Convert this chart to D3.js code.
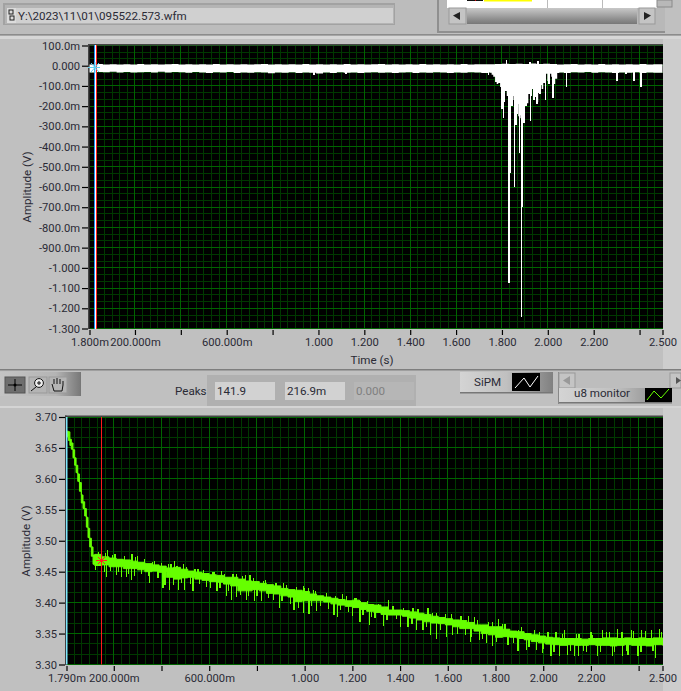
<!DOCTYPE html>
<html><head><meta charset="utf-8">
<script src="https://cdn.jsdelivr.net/npm/d3@7"></script>
<style>
html,body{margin:0;padding:0;background:#c0c0c0;overflow:hidden}
svg{display:block}
text{font-family:Roboto,"Noto Sans",sans-serif;font-size:11.6px;fill:#2a2a35}
</style></head><body>
<svg id="c" width="681" height="691"></svg>
<script>
// ---------- data ----------
const filePath = "Y:\\2023\\11\\01\\095522.573.wfm";
const peakLabels = ["141.9","216.9m","0.000"];
const topYTicks = [0.1,0,-0.1,-0.2,-0.3,-0.4,-0.5,-0.6,-0.7,-0.8,-0.9,-1.0,-1.1,-1.2,-1.3];
const topYLabels = ["100.0m","0.000","-100.0m","-200.0m","-300.0m","-400.0m","-500.0m","-600.0m","-700.0m","-800.0m","-900.0m","-1.000","-1.100","-1.200","-1.300"];
const xMajor = [0.2,0.4,0.6,0.8,1.0,1.2,1.4,1.6,1.8,2.0,2.2,2.4];
const xLabelled = [0.2,0.6,1.0,1.2,1.4,1.6,1.8,2.0,2.2,2.5];
const xLabelText = ["200.000m","600.000m","1.000","1.200","1.400","1.600","1.800","2.000","2.200","2.500"];
const botYTicks = [3.70,3.65,3.60,3.55,3.50,3.45,3.40,3.35,3.30];

// SiPM band: time, low edge, high edge
const sipmBand = [[0.002,-0.034,0.006],[0.03,-0.031,0.008],[0.06,-0.032,0.006],[0.09,-0.030,0.007],[0.12,-0.033,0.006],[0.15,-0.031,0.007],[0.18,-0.034,0.006],[0.21,-0.032,0.008],[0.24,-0.031,0.006],[0.27,-0.033,0.007],[0.30,-0.030,0.006],[0.33,-0.034,0.007],[0.36,-0.031,0.008],[0.39,-0.032,0.006],[0.42,-0.035,0.007],[0.45,-0.031,0.006],[0.48,-0.033,0.007],[0.51,-0.036,0.006],[0.54,-0.032,0.008],[0.57,-0.034,0.006],[0.60,-0.031,0.007],[0.63,-0.036,0.006],[0.66,-0.033,0.007],[0.69,-0.035,0.006],[0.72,-0.032,0.007],[0.75,-0.034,0.008],[0.78,-0.037,0.006],[0.81,-0.033,0.007],[0.84,-0.035,0.006],[0.87,-0.032,0.007],[0.90,-0.036,0.006],[0.93,-0.033,0.008],[0.96,-0.035,0.006],[0.99,-0.038,0.007],[1.02,-0.034,0.006],[1.05,-0.036,0.007],[1.08,-0.032,0.006],[1.11,-0.035,0.008],[1.14,-0.033,0.006],[1.17,-0.036,0.007],[1.20,-0.034,0.006],[1.23,-0.032,0.007],[1.26,-0.035,0.008],[1.29,-0.033,0.006],[1.32,-0.036,0.007],[1.35,-0.034,0.006],[1.38,-0.032,0.007],[1.41,-0.036,0.006],[1.44,-0.033,0.008],[1.47,-0.035,0.006],[1.50,-0.032,0.007],[1.53,-0.034,0.006],[1.56,-0.036,0.007],[1.59,-0.033,0.006],[1.62,-0.035,0.008],[1.65,-0.032,0.006],[1.68,-0.034,0.007],[1.71,-0.036,0.007],[1.74,-0.033,0.007],[1.77,-0.034,0.008],[1.80,-0.034,0.010],[1.83,-0.034,0.009],[1.86,-0.034,0.010],[1.89,-0.034,0.009],[1.92,-0.034,0.011],[1.95,-0.034,0.009],[1.98,-0.034,0.010],[2.01,-0.034,0.008],[2.04,-0.033,0.006],[2.07,-0.036,0.007],[2.10,-0.032,0.008],[2.13,-0.034,0.006],[2.16,-0.031,0.007],[2.19,-0.035,0.006],[2.22,-0.032,0.008],[2.25,-0.034,0.006],[2.28,-0.036,0.007],[2.31,-0.033,0.006],[2.34,-0.035,0.007],[2.37,-0.032,0.006],[2.40,-0.036,0.008],[2.43,-0.033,0.006],[2.46,-0.035,0.007],[2.50,-0.032,0.006]];
// SiPM burst: time, lowest continuous level
const sipmBurst = [[1.748,-0.033],[1.755,-0.045],[1.762,-0.055],[1.770,-0.080],[1.777,-0.090],[1.784,-0.085],[1.792,-0.105],[1.799,-0.130],[1.806,-0.140],[1.813,-0.125],[1.821,-0.150],[1.828,-0.170],[1.835,-0.190],[1.842,-0.150],[1.850,-0.170],[1.858,-0.215],[1.866,-0.190],[1.871,-0.250],[1.877,-0.260],[1.882,-0.245],[1.889,-0.250],[1.893,-0.230],[1.897,-0.190],[1.902,-0.110],[1.908,-0.186],[1.915,-0.140],[1.924,-0.150],[1.931,-0.115],[1.937,-0.135],[1.944,-0.155],[1.951,-0.180],[1.958,-0.135],[1.966,-0.095],[1.973,-0.115],[1.980,-0.085],[1.989,-0.040],[1.998,-0.075],[2.006,-0.040],[2.015,-0.055],[2.024,-0.090],[2.032,-0.065],[2.041,-0.036],[2.05,-0.033]];
// SiPM spikes: time, tip value
const sipmSpikes = [[1.742,-0.048],[1.799,-0.214],[1.806,-0.260],[1.812,-0.180],[1.832,-1.074],[1.836,-0.533],[1.845,-0.200],[1.854,-0.602],[1.860,-0.294],[1.868,-0.240],[1.877,-0.430],[1.886,-1.242],[1.889,-0.701],[1.897,-0.285],[1.905,-0.200],[1.924,-0.272],[1.940,-0.170],[1.952,-0.190],[1.966,-0.140],[1.990,-0.170],[2.006,-0.090],[2.022,-0.160],[2.082,-0.104],[2.302,-0.074],[2.376,-0.074],[2.407,-0.107],[1.820,0.028],[1.922,0.016],[1.958,0.023],[1.12,-0.042],[0.98,-0.044],[2.34,-0.040]];

// u8 monitor: fall at the start, then noisy band: time, low edge, high edge
const u8Band = [[0.004,3.668,3.677],[0.010,3.662,3.676],[0.016,3.654,3.664],[0.022,3.648,3.658],[0.029,3.634,3.647],[0.036,3.622,3.634],[0.042,3.610,3.622],[0.049,3.596,3.608],[0.056,3.580,3.594],[0.064,3.561,3.574],[0.071,3.552,3.563],[0.078,3.540,3.552],[0.085,3.522,3.538],[0.092,3.505,3.520],[0.099,3.490,3.504],[0.106,3.475,3.490],[0.113,3.462,3.477],[0.12,3.460,3.478],[0.15,3.461,3.474],[0.18,3.458,3.472],[0.21,3.458,3.470],[0.24,3.455,3.469],[0.27,3.455,3.467],[0.30,3.453,3.465],[0.33,3.450,3.463],[0.36,3.451,3.461],[0.39,3.449,3.459],[0.42,3.441,3.456],[0.45,3.438,3.457],[0.48,3.440,3.454],[0.51,3.441,3.451],[0.54,3.438,3.449],[0.57,3.436,3.447],[0.60,3.434,3.445],[0.63,3.433,3.444],[0.66,3.430,3.441],[0.69,3.427,3.441],[0.72,3.419,3.438],[0.75,3.419,3.435],[0.78,3.421,3.434],[0.81,3.419,3.431],[0.84,3.415,3.429],[0.87,3.414,3.427],[0.90,3.411,3.423],[0.93,3.409,3.421],[0.96,3.402,3.420],[0.99,3.403,3.418],[1.02,3.403,3.414],[1.05,3.403,3.411],[1.08,3.401,3.409],[1.11,3.398,3.407],[1.14,3.396,3.405],[1.17,3.394,3.403],[1.20,3.392,3.404],[1.23,3.389,3.400],[1.26,3.386,3.397],[1.29,3.384,3.396],[1.32,3.381,3.393],[1.35,3.380,3.388],[1.38,3.380,3.388],[1.41,3.378,3.387],[1.44,3.375,3.385],[1.47,3.372,3.383],[1.50,3.369,3.381],[1.53,3.367,3.378],[1.56,3.366,3.376],[1.59,3.364,3.374],[1.62,3.361,3.372],[1.65,3.358,3.371],[1.68,3.358,3.368],[1.71,3.354,3.364],[1.74,3.350,3.364],[1.77,3.348,3.361],[1.80,3.344,3.361],[1.83,3.345,3.357],[1.86,3.344,3.354],[1.89,3.342,3.353],[1.92,3.340,3.350],[1.95,3.337,3.348],[1.98,3.335,3.346],[2.01,3.333,3.344],[2.04,3.332,3.343],[2.07,3.331,3.342],[2.10,3.332,3.342],[2.13,3.331,3.342],[2.16,3.331,3.341],[2.19,3.332,3.342],[2.22,3.331,3.342],[2.25,3.331,3.343],[2.28,3.330,3.343],[2.31,3.331,3.342],[2.34,3.332,3.343],[2.37,3.331,3.342],[2.40,3.331,3.343],[2.43,3.330,3.342],[2.46,3.332,3.343],[2.50,3.331,3.343]];
const u8SpikesUp = [[0.175,3.485],[0.276,3.479],[0.291,3.473],[0.196,3.477],[0.238,3.469],[0.361,3.465],[0.431,3.463],[0.455,3.467],[0.493,3.462],[0.553,3.454],[0.613,3.449],[0.651,3.451],[0.714,3.446],[0.752,3.445],[0.771,3.444],[0.826,3.435],[0.913,3.432],[0.994,3.427],[1.015,3.423],[1.036,3.421],[1.158,3.414],[1.215,3.408],[1.232,3.402],[1.353,3.404],[1.454,3.392],[1.517,3.391],[1.554,3.383],[1.614,3.381],[1.688,3.378],[1.712,3.376],[1.789,3.369],[1.814,3.373],[1.831,3.365],[1.897,3.356],[1.985,3.352],[2.027,3.345],[2.054,3.353],[2.089,3.356],[2.138,3.350],[2.208,3.348],[2.25,3.355],[2.278,3.353],[2.313,3.358],[2.369,3.356],[2.411,3.356],[2.453,3.355],[2.487,3.357]];
const u8SpikesDown = [[0.147,3.455],[0.171,3.442],[0.21,3.445],[0.231,3.441],[0.252,3.442],[0.273,3.437],[0.287,3.443],[0.35,3.431],[0.406,3.423],[0.434,3.421],[0.472,3.421],[0.496,3.420],[0.532,3.419],[0.605,3.423],[0.633,3.419],[0.672,3.410],[0.693,3.405],[0.714,3.409],[0.756,3.404],[0.791,3.403],[0.819,3.402],[0.868,3.404],[0.893,3.391],[0.955,3.388],[0.994,3.384],[1.018,3.382],[1.05,3.387],[1.123,3.380],[1.137,3.376],[1.2,3.378],[1.232,3.369],[1.271,3.364],[1.295,3.375],[1.332,3.363],[1.401,3.360],[1.433,3.361],[1.470,3.356],[1.496,3.355],[1.528,3.347],[1.554,3.342],[1.593,3.345],[1.621,3.347],[1.674,3.348],[1.694,3.337],[1.733,3.340],[1.761,3.335],[1.789,3.330],[1.852,3.331],[1.894,3.322],[1.929,3.324],[1.971,3.324],[1.996,3.318],[2.033,3.314],[2.068,3.313],[2.103,3.315],[2.131,3.313],[2.149,3.313],[2.183,3.321],[2.229,3.313],[2.292,3.313],[2.334,3.313],[2.355,3.315],[2.397,3.314],[2.471,3.311]];
const u8SpikesFine = [[.125,3.452],[.135,3.482],[.16,3.449],[.165,3.48],[.185,3.451],[.205,3.479],[.22,3.45],[.245,3.475],[.26,3.447],[.3,3.475],[.315,3.446],[.33,3.471],[.345,3.443],[.37,3.468],[.385,3.44],[.4,3.464],[.415,3.429],[.44,3.462],[.45,3.428],[.465,3.46],[.485,3.431],[.505,3.458],[.52,3.43],[.54,3.455],[.56,3.43],[.575,3.453],[.59,3.426],[.62,3.45],[.645,3.424],[.665,3.447],[.68,3.418],[.7,3.447],[.73,3.412],[.74,3.443],[.765,3.41],[.785,3.44],[.8,3.41],[.835,3.436],[.85,3.408],[.88,3.432],[.905,3.403],[.925,3.428],[.94,3.398],[.965,3.426],[.975,3.392],[1.0,3.424],[1.03,3.395],[1.045,3.418],[1.065,3.394],[1.09,3.415],[1.1,3.39],[1.13,3.411],[1.15,3.388],[1.175,3.41],[1.185,3.385],[1.21,3.408],[1.245,3.38],[1.265,3.403],[1.28,3.377],[1.31,3.398],[1.345,3.372],[1.37,3.395],[1.385,3.373],[1.415,3.392],[1.45,3.366],[1.475,3.39],[1.51,3.36],[1.535,3.384],[1.57,3.356],[1.59,3.382],[1.64,3.35],[1.655,3.378],[1.7,3.345],[1.725,3.372],[1.745,3.342],[1.77,3.368],[1.805,3.336],[1.84,3.365],[1.875,3.335],[1.91,3.36],[1.94,3.328],[1.965,3.355],[2.0,3.325],[2.02,3.352],[2.045,3.32],[2.08,3.35],[2.115,3.322],[2.15,3.35],[2.17,3.322],[2.2,3.352],[2.24,3.32],[2.265,3.352],[2.3,3.32],[2.33,3.352],[2.35,3.322],[2.38,3.354],[2.41,3.32],[2.43,3.354],[2.46,3.322],[2.495,3.353]];

// ---------- scales ----------
const svg = d3.select("#c");
const xTop = d3.scaleLinear().domain([0.0018,2.5]).range([89.5,662.5]);
const yTop = d3.scaleLinear().domain([0.1,-1.3]).range([45.5,328.5]);
const xBot = d3.scaleLinear().domain([0.00179,2.5]).range([66.5,662.5]);
const yBot = d3.scaleLinear().domain([3.70,3.30]).range([417,664.5]);

// ---------- chrome ----------
const defs = svg.append("defs");
function grad(id,stops,vertical){
  const g=defs.append("linearGradient").attr("id",id).attr("x1",0).attr("y1",0).attr("x2",vertical?0:1).attr("y2",vertical?1:0);
  stops.forEach(s=>g.append("stop").attr("offset",s[0]).attr("stop-color",s[1]));
}
grad("thumb",[[0,"#c8c8c8"],[0.3,"#b0b0b0"],[0.7,"#8e8e8e"],[1,"#777"]],true);
grad("tool",[[0,"#c4c4c4"],[0.7,"#b4b4b4"],[1,"#7a7a7a"]],false);
grad("leg",[[0,"#d4d4d4"],[0.5,"#c0c0c0"],[1,"#808080"]],false);
function R(x,y,w,h,f,s){const r=svg.append("rect").attr("x",x).attr("y",y).attr("width",w).attr("height",h).attr("fill",f);if(s)r.attr("stroke",s);return r;}
function T(x,y,t,a,c){const e=svg.append("text").attr("x",x).attr("y",y).attr("text-anchor",a||"start").text(t);if(c)e.style("fill",c);return e;}
R(0,0,681,691,"#c0c0c0");
// path control
R(0,0,437,35,"#bcbcbc");
R(3,3,392,22,"#a2a2a2");
R(5,5,389,19,"#b4b4b4");
R(7,8,386,15,"#d0d0d0");
R(7,8,9,15,"#dcdcdc");
R(9,10,4,4,"none","#222"); R(10,16,4,4,"none","#222");
T(18,20,filePath);
// bands under path and table
R(0,34,681,1.5,"#8c8c8c"); R(0,36,681,3,"#d6d6d6");
// table
R(437,0,228,33,"#b8b8b8"); R(437,0,2,33,"#8f8f8f"); R(437,31,228,2,"#8f8f8f");
R(447,0,210,8,"#fff");
R(467,0,16,1,"#111"); R(475,0,1,1,"#d00"); R(484,0,48,1.5,"#ff0");
R(547,0,.8,8,"#aaa"); R(602,0,.8,8,"#aaa");
R(657,0,15,7,"#b8b8b8","#8a8a8a");
R(449,8,17,16,"#c4c4c4","#999"); R(467,8,170,16,"url(#thumb)"); R(639,8,16,16,"#c4c4c4","#999");
svg.append("path").attr("d","M453,15.5 L460,12 V20 Z").attr("fill","#222");
svg.append("path").attr("d","M651,15.5 L644,12 V20 Z").attr("fill","#222");
// right rail
R(663,39,18,330,"#cdcdcd"); R(663,408,18,283,"#cdcdcd");
// mid toolbar region
R(0,369,681,1.5,"#7e7e7e"); R(0,371,681,36,"#c0c0c0");
R(0,406,681,2,"#d4d4d4");
R(0,372,80,24,"url(#tool)"); R(80,372,1,24,"#777");
R(5,377,20,16,"#6e6e6e","#555");
svg.append("path").attr("d","M8,385 H22 M15,379 V391").attr("stroke","#000").attr("fill","none");
svg.append("circle").attr("cx",15).attr("cy",385).attr("r",1.5).attr("fill","#000");
R(29,377,18,16,"#b4b4b4","#999"); R(49,377,18,16,"#b4b4b4","#999");
svg.append("circle").attr("cx",39).attr("cy",383).attr("r",4.4).attr("fill","#eee").attr("stroke","#111");
svg.append("path").attr("d","M36,387 L31,391 M37,383 H41 M39,381 V385").attr("stroke","#111").attr("fill","none");
svg.append("path").attr("d","M54,391 L52,384 M54,384 V379 M57,384 V378 M60,384 V379 M63,385 V381 M54,391 H62 L63,385").attr("stroke","#111").attr("fill","none");
// peaks
T(175,395,"Peaks");
[[207,peakLabels[0],"#d2d2d2","#2a2a35"],[277,peakLabels[1],"#d2d2d2","#2a2a35"],[346,peakLabels[2],"#b6b6b6","#808080"]].forEach(d=>{
  R(d[0],375,70,31,"#b0b0b0");
  R(d[0]+8,382,62-2,18,d[2]);
  T(d[0]+10,395,d[1],"start",d[3]);
});
// legend SiPM
R(460,372,93,21,"url(#leg)"); R(460,392,93,1.5,"#777");
T(474,386,"SiPM");
R(512,373,28,18,"#000");
svg.append("polyline").attr("points","515,388 524,378 530,387 538,376").attr("fill","none").attr("stroke","#fff");
// legend u8
R(558,372,123,16,"#bdbdbd"); R(558,372,1,32,"#888");
R(559,373,16,15,"#c4c4c4","#999"); R(670,373,11,15,"#c4c4c4","#999");
svg.append("path").attr("d","M563,380.5 L570,376 V385 Z").attr("fill","#999");
svg.append("path").attr("d","M681,380.5 L676,377 V384 Z").attr("fill","#555");
R(559,388,113,15,"url(#leg)"); R(559,402,113,1.5,"#777");
T(574,397,"u8 monitor");
R(645,388,27,14,"#000");
svg.append("polyline").attr("points","647,400 654,391 661,398 669,389").attr("fill","none").attr("stroke","#6f0");

// ---------- plots ----------
function plot(x,y,xStart,yMajor,xAll){
  const [x0,x1]=x.range(), [y0,y1]=y.range();
  R(x0-.5,y0-.5,x1-x0+1,y1-y0+1,"#000");
  const g=svg.append("g").attr("shape-rendering","crispEdges");
  const majStep=0.2, sub=6;
  const minorX=[]; for(let i=0;i<=13*sub;i++){const v=i*majStep/sub; if(v>xStart&&v<2.5&&i%sub!==0)minorX.push(v);}
  const sy=(yMajor[1]-yMajor[0])/3, minorY=[];
  yMajor.forEach((v,i)=>{if(i<yMajor.length-1){minorY.push(v+sy,v+2*sy);}});
  g.selectAll(".mx").data(minorX).join("line").attr("x1",d=>x(d)).attr("x2",d=>x(d)).attr("y1",y0).attr("y2",y1).attr("stroke","#003800");
  g.selectAll(".my").data(minorY).join("line").attr("y1",d=>y(d)).attr("y2",d=>y(d)).attr("x1",x0).attr("x2",x1).attr("stroke","#003800");
  g.selectAll(".Mx").data(xAll).join("line").attr("x1",d=>x(d)).attr("x2",d=>x(d)).attr("y1",y0).attr("y2",y1).attr("stroke","#006400");
  g.selectAll(".My").data(yMajor).join("line").attr("y1",d=>y(d)).attr("y2",d=>y(d)).attr("x1",x0).attr("x2",x1).attr("stroke","#006400");
  R(x0-1.5,y0-1.5,x1-x0+2,1.5,"#444"); R(x0-1.5,y0-1.5,1.5,y1-y0+2,"#444");
}
plot(xTop,yTop,0.0018,topYTicks,xMajor);
plot(xBot,yBot,0.00179,botYTicks,xMajor);

// axes
function axes(x,y,yTicks,yFmt,xFirst,xFirstText,yPos,xPos){
  const ay=d3.axisLeft(y).tickValues(yTicks).tickFormat(yFmt).tickSizeInner(6).tickSizeOuter(0).tickPadding(2);
  const gy=svg.append("g").attr("transform",`translate(${yPos},0)`).call(ay);
  gy.select(".domain").remove(); gy.selectAll("line").attr("stroke","#000").attr("stroke-width",1.2);
  const allT=[xFirst].concat(xMajor,[2.5]);
  const txt=d3.scaleOrdinal().domain([xFirst].concat(xLabelled)).range([xFirstText].concat(xLabelText)).unknown("");
  const ax=d3.axisBottom(x).tickValues(allT).tickFormat(d=>txt(d)).tickSizeInner(5).tickSizeOuter(0).tickPadding(3);
  const gx=svg.append("g").attr("transform",`translate(0,${xPos})`).call(ax);
  gx.select(".domain").remove(); gx.selectAll("line").attr("stroke","#000").attr("stroke-width",1.2);
  svg.selectAll(".tick text").style("font-family","Roboto,sans-serif").style("font-size","11.2px");
}
axes(xTop,yTop,topYTicks,(d,i)=>topYLabels[i],0.0018,"1.800m",88,330);
axes(xBot,yBot,botYTicks,d=>d.toFixed(2),0.00179,"1.790m",65,666);
T(372,364,"Time (s)","middle");
svg.append("text").attr("transform","translate(31,187) rotate(-90)").attr("text-anchor","middle").text("Amplitude (V)");
svg.append("text").attr("transform","translate(30,541) rotate(-90)").attr("text-anchor","middle").text("Amplitude (V)");

// traces
const gt=svg.append("g");
// cursors, top
R(94,45,1,284,"#1e90ff");R(95,45,1,284,"#fff");R(96,45,1,284,"#ff2020");
const areaTop=d3.area().x(d=>xTop(d[0])).y0(d=>yTop(d[1])).y1(d=>yTop(d[2])).curve(d3.curveStepAfter);
gt.append("path").datum(sipmBand).attr("d",areaTop).attr("fill","#fff");
gt.append("path").datum(sipmBurst).attr("d",d3.area().x(d=>xTop(d[0])).y0(yTop(0)).y1(d=>yTop(d[1])).curve(d3.curveStepAfter)).attr("fill","#fff");
gt.selectAll(".s").data(sipmSpikes).join("line").attr("x1",d=>xTop(d[0])).attr("x2",d=>xTop(d[0])).attr("y1",yTop(0)).attr("y2",d=>yTop(d[1])).attr("stroke","#fff").attr("stroke-width",1.6).attr("shape-rendering","crispEdges");
svg.append("path").attr("d","M88,67.5 H100 M95,62 V73 M91,63 L99,72 M99,63 L91,72").attr("stroke","#5fd0f0").attr("stroke-width",1);

const gb=svg.append("g");
R(66,417,1.5,247.5,"#7fe8ff");
R(101,417,1,247.5,"#ff1a1a");
const green="#66ff00";
gb.append("path").datum(u8Band).attr("d",d3.area().x(d=>xBot(d[0])).y0(d=>yBot(d[1])).y1(d=>yBot(d[2])).curve(d3.curveStepAfter)).attr("fill",green).attr("stroke",green).attr("stroke-width",1);
const u8Mid=d=>{const r=u8Band[d3.bisector(b=>b[0]).right(u8Band,d[0])-1];return yBot((r[1]+r[2])/2);};
gb.selectAll(".u").data(u8SpikesUp.concat(u8SpikesDown,u8SpikesFine)).join("line").attr("x1",d=>xBot(d[0])).attr("x2",d=>xBot(d[0])).attr("y1",u8Mid).attr("y2",d=>yBot(d[1])).attr("stroke",green).attr("stroke-width",1.2).attr("shape-rendering","crispEdges");
svg.append("path").attr("d","M96,560.5 H107 M101.5,555 V566 M98,557 L105,564 M105,557 L98,564").attr("stroke","#ff2020").attr("stroke-width",1);
</script>
</body></html>
